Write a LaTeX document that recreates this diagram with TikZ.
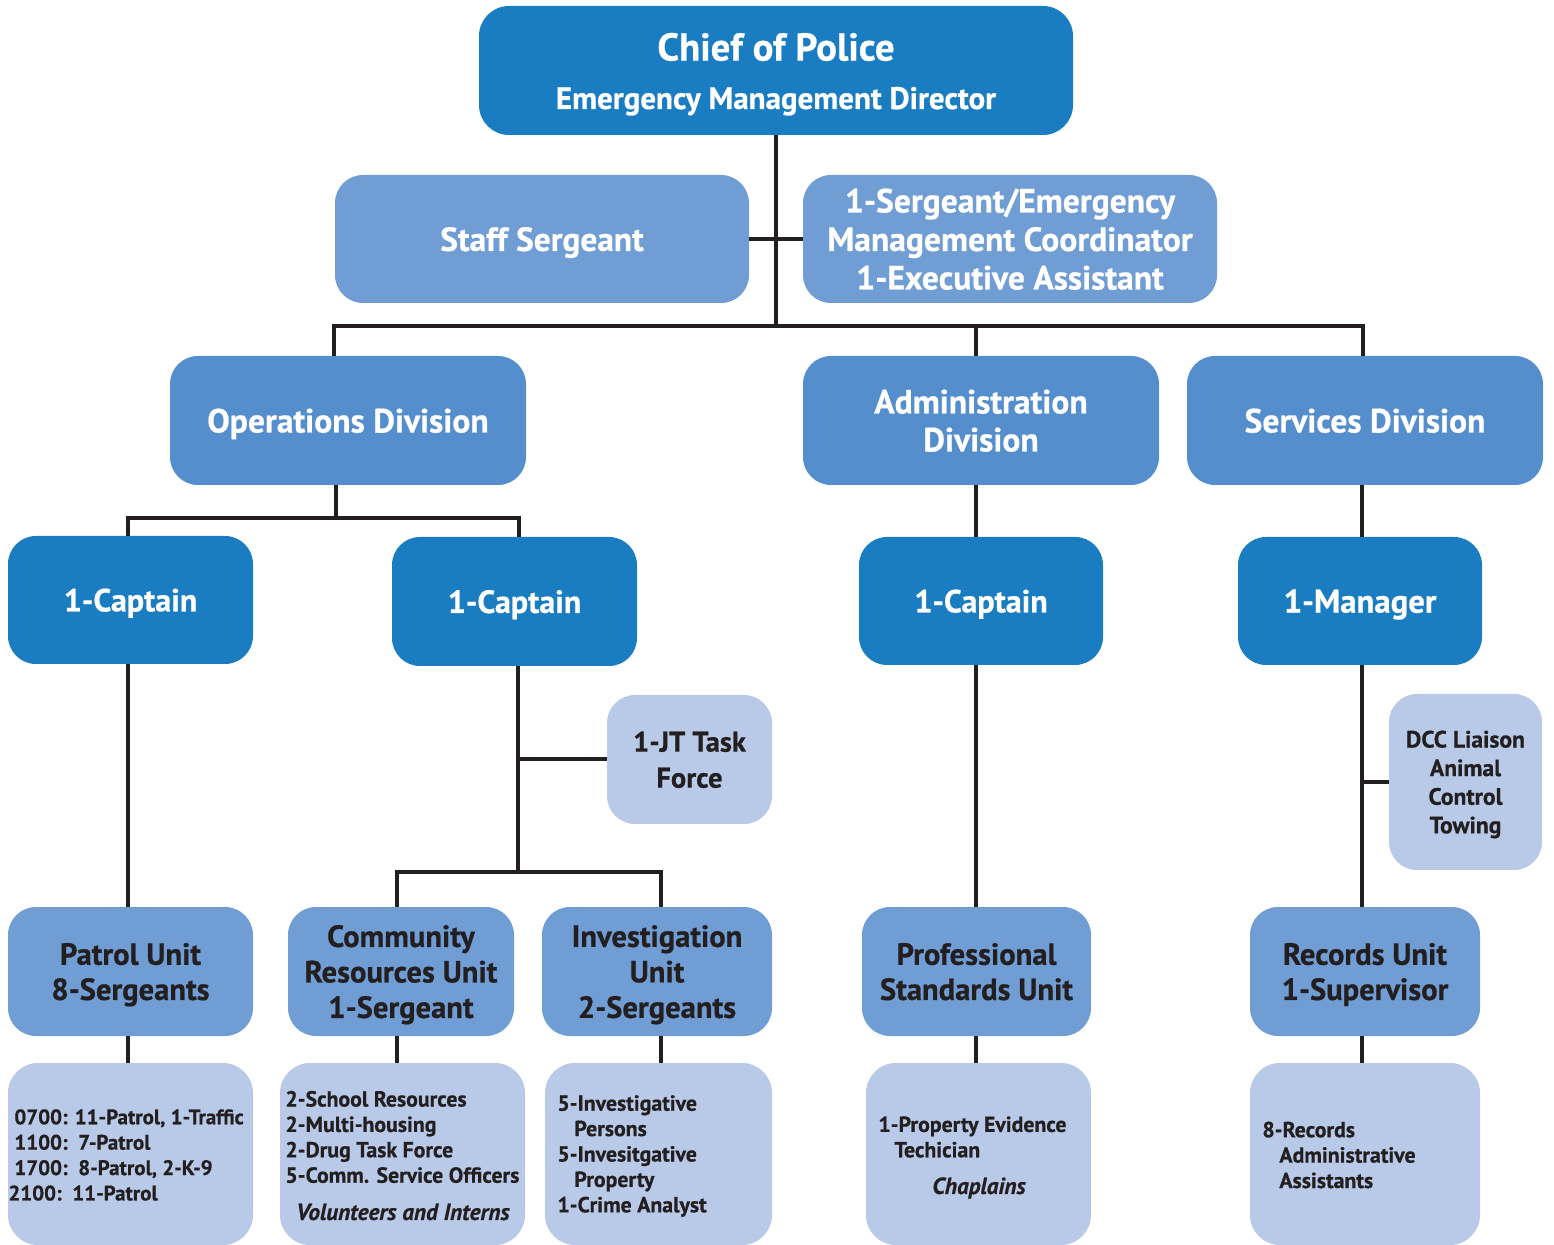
\documentclass[tikz,border=0pt]{standalone}
\usepackage{fontspec}
\setmainfont{PT Sans}[BoldFeatures={FakeBold=0.6},BoldItalicFeatures={FakeBold=0.6}]
\definecolor{cDark}{HTML}{1A7DC2}
\definecolor{cDiv}{HTML}{548ECC}
\definecolor{cMid}{HTML}{709DD4}
\definecolor{cLight}{HTML}{B8CAE7}
\definecolor{cLine}{HTML}{231F20}
\newcommand\myfs[2]{\fontsize{#1}{#2}\selectfont}
\begin{document}
\begin{tikzpicture}[x=0.5pt,y=-0.5pt,
  box/.style={rectangle, rounded corners=14pt, inner sep=0pt, align=center, font=\bfseries, text depth=0pt},
  darkbox/.style={box, fill=cDark, text=white},
  divbox/.style={box, fill=cDiv, text=white},
  staffbox/.style={box, fill=cMid, text=white},
  unitbox/.style={box, fill=cMid, text=cLine},
  lightbox/.style={box, fill=cLight, text=cLine},
  txt/.style={inner sep=0pt, align=left, text=cLine, font=\bfseries\myfs{10.9}{12.7}},
  itxt/.style={inner sep=0pt, text=cLine, font=\bfseries\itshape\myfs{11.6}{12.7}},
  link/.style={draw=cLine, line width=2pt}]
\useasboundingbox (0,0) rectangle (1554,1245);

% top
\node[darkbox, rounded corners=15pt, minimum width=297pt, minimum height=64.5pt] (chief) at (776,70.5) {};
\node[inner sep=0pt, text=white, font=\bfseries\myfs{19.4}{22}] (chiefT) at (776,47) {Chief of Police};
\node[inner sep=0pt, text=white, font=\bfseries\myfs{15.5}{18}, anchor=base] (chiefS) at (776,109) {Emergency Management Director};

\node[staffbox, minimum width=207pt, minimum height=64pt, font=\bfseries\myfs{16.7}{19}] (staff) at (542,239) {Staff Sergeant};
\node[staffbox, minimum width=207pt, minimum height=64pt, font=\bfseries\myfs{16.8}{19.25}] (sgt) at (1010,239) {1-Sergeant/Emergency\\Management Coordinator\\1-Executive Assistant};

% divisions
\node[divbox, minimum width=178pt, minimum height=64.5pt, font=\bfseries\myfs{16.8}{19}] (ops) at (348,420.5) {Operations Division};
\node[divbox, minimum width=178pt, minimum height=64.5pt, font=\bfseries\myfs{16.8}{19}] (admin) at (981,420.5) {Administration\\Division};
\node[divbox, minimum width=178pt, minimum height=64.5pt, font=\bfseries\myfs{16.8}{19}] (serv) at (1365,420.5) {Services Division};

% captains
\node[darkbox, minimum width=122.5pt, minimum height=64pt, font=\bfseries\myfs{16}{19}] (cap1) at (130.5,600) {1-Captain};
\node[darkbox, minimum width=122.5pt, minimum height=64.5pt, font=\bfseries\myfs{16}{19}] (cap2) at (514.5,601.5) {1-Captain};
\node[darkbox, minimum width=122pt, minimum height=64pt, font=\bfseries\myfs{16}{19}] (cap3) at (981,601) {1-Captain};
\node[darkbox, minimum width=122pt, minimum height=64pt, font=\bfseries\myfs{16.4}{19}] (mgr) at (1360,601) {1-Manager};

% side boxes
\node[lightbox, minimum width=82.5pt, minimum height=64.5pt, font=\bfseries\myfs{14.25}{18}] (jt) at (689.5,759.5) {1-JT Task\\Force};
\node[lightbox, minimum width=76.5pt, minimum height=88pt, font=\bfseries\myfs{11.8}{14.3}] (dcc) at (1465.5,782) {DCC Liaison\\Animal\\Control\\Towing};

% units
\node[unitbox, minimum width=122.5pt, minimum height=64.5pt, font=\bfseries\myfs{15.3}{17.6}] (patrol) at (130.5,971.5) {Patrol Unit\\8-Sergeants};
\node[unitbox, minimum width=113pt, minimum height=64.5pt, font=\bfseries\myfs{15.3}{17.75}] (comm) at (401,971.5) {Community\\Resources Unit\\1-Sergeant};
\node[unitbox, minimum width=115pt, minimum height=64.5pt, font=\bfseries\myfs{15.3}{17.75}] (inv) at (657,971.5) {Investigation\\Unit\\2-Sergeants};
\node[unitbox, minimum width=114.5pt, minimum height=64.5pt, font=\bfseries\myfs{15.3}{17.6}] (prof) at (976.5,971.5) {Professional\\Standards Unit};
\node[unitbox, minimum width=115pt, minimum height=64.5pt, font=\bfseries\myfs{15.3}{17.6}] (records) at (1365,971.5) {Records Unit\\1-Supervisor};

% detail boxes
\node[lightbox, rounded corners=15pt, minimum width=122.5pt, minimum height=91pt] (patd) at (130.5,1154) {};
\node[lightbox, rounded corners=15pt, minimum width=122.5pt, minimum height=91pt] (commd) at (402.5,1154) {};
\node[lightbox, rounded corners=15pt, minimum width=113.5pt, minimum height=91pt] (invd) at (658.5,1154) {};
\node[lightbox, rounded corners=15pt, minimum width=112.5pt, minimum height=91pt] (profd) at (978.5,1154) {};
\node[lightbox, rounded corners=15pt, minimum width=115pt, minimum height=91pt] (recd) at (1365,1154) {};

% detail texts
\node[txt, anchor=west, font=\bfseries\myfs{10.5}{12.7}] (patT) at (8,1155) {\hspace*{3pt}0700: 11-Patrol, 1-Traffic\\\hspace*{3pt}1100:\ \ 7-Patrol\\\hspace*{3pt}1700:\ \ 8-Patrol, 2-K-9\\2100:\ \ 11-Patrol};
\node[txt, anchor=west] (commT) at (285,1137) {2-School Resources\\2-Multi-housing\\2-Drug Task Force\\5-Comm. Service Officers};
\node[itxt] (commV) at (403,1212) {Volunteers and Interns};
\node[txt, anchor=west] (invT) at (557,1156) {5-Investigative\\\hspace*{8.5pt}Persons\\5-Invesitgative\\\hspace*{8.5pt}Property\\1-Crime Analyst};
\node[txt, anchor=west] (profT) at (878,1137) {1-Property Evidence\\\hspace*{8pt}Techician};
\node[itxt] (profC) at (979,1188) {Chaplains};
\node[txt, anchor=west] (recT) at (1262,1155) {8-Records\\\hspace*{8.5pt}Administrative\\\hspace*{8.5pt}Assistants};

% junctions
\coordinate (jTop) at (776,326);
\coordinate (jL) at (334,326);
\coordinate (jA) at (976,326);
\coordinate (jR) at (1363,326);
\coordinate (jO) at (336,518);
\coordinate (jOL) at (128,518);
\coordinate (jOR) at (519,518);
\coordinate (jC) at (518,872);
\coordinate (jCL) at (397,872);
\coordinate (jCR) at (661,872);
\coordinate (jJT) at (518,759);
\coordinate (jDCC) at (1362,782);

% connectors
\draw[link] (chief.south) -- (jTop);
\draw[link] (staff.east) -- (sgt.west);
\draw[link] (jL |- ops.north) -- (jL) -- (jR) -- (jR |- serv.north);
\draw[link] (jA) -- (jA |- admin.north);
\draw[link] (jO |- ops.south) -- (jO);
\draw[link] (jOL |- cap1.north) -- (jOL) -- (jOR) -- (jOR |- cap2.north);
\draw[link] (jOL |- cap1.south) -- (jOL |- patrol.north);
\draw[link] (jC |- cap2.south) -- (jC);
\draw[link] (jCL |- comm.north) -- (jCL) -- (jCR) -- (jCR |- inv.north);
\draw[link] (jJT) -- (jJT -| jt.west);
\draw[link] (jA |- admin.south) -- (jA |- cap3.north);
\draw[link] (jA |- cap3.south) -- (jA |- prof.north);
\draw[link] (jDCC |- mgr.north) -- (jDCC |- serv.south);
\draw[link] (jDCC |- mgr.south) -- (jDCC |- records.north);
\draw[link] (jDCC) -- (jDCC -| dcc.west);
\draw[link] (jOL |- patrol.south) -- (jOL |- patd.north);
\draw[link] (jCL |- comm.south) -- (jCL |- commd.north);
\draw[link] (jCR |- inv.south) -- (jCR |- invd.north);
\draw[link] (jA |- prof.south) -- (jA |- profd.north);
\draw[link] (jDCC |- records.south) -- (jDCC |- recd.north);
\end{tikzpicture}
\end{document}
